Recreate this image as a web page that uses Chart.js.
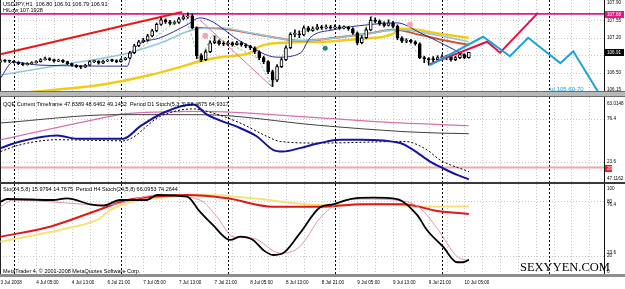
<!DOCTYPE html>
<html>
<head>
<meta charset="utf-8">
<title>USDJPY H1</title>
<script src="https://cdn.jsdelivr.net/npm/chart.js@4.4.1/dist/chart.umd.min.js"></script>
<style>
  html, body { margin: 0; padding: 0; background: #fff; }
  #wrap { position: relative; width: 625px; height: 289px; overflow: hidden; background: #fff;
          font-family: "Liberation Sans", Arial, sans-serif; }
  #wrap canvas { position: absolute; left: 0; }
  .sep { position: absolute; left: 0; width: 625px; box-sizing: border-box; }
  .txt { position: absolute; white-space: nowrap; font-size: 5.5px; line-height: 5.5px; color: #000; }
</style>
</head>
<body>
<div id="wrap">
  <canvas id="pricePane" width="625" height="91" style="top:0"></canvas>
  <canvas id="qqePane" width="625" height="85" style="top:97px"></canvas>
  <canvas id="stoPane" width="625" height="105" style="top:184px"></canvas>

  <div class="sep" style="top:91px;height:6px;background:#b8b8b8;border-top:1px solid #6c6c6c;border-bottom:1px solid #6c6c6c"></div>
  <div class="sep" style="top:182px;height:2px;background:#3a3a3a"></div>
  <div class="sep" style="top:274px;height:3px;background:#8e8e8e"></div>

  <div class="txt" style="left:3px;top:2px">USDJPY,H1&nbsp; 106.80 106.91 106.79 106.91</div>
  <div class="txt" style="left:3px;top:7.5px">HiLow 107.1928</div>
  <div class="txt" style="left:3px;top:101.5px">QQE Current Timeframe 47.8389 48.6462 49.1452&nbsp; Period D1 Stoch(5,3,3) 58.4875 64.9317</div>
  <div class="txt" style="left:3px;top:187px">Sto(24,5,8) 15.9794 14.7675&nbsp; Period H4 Stoch(24,5,8) 66.0953 74.2644</div>
  <div class="txt" style="left:3px;top:268.5px">MetaTrader 4, &copy; 2001-2008 MetaQuotes Software Corp.</div>
  <div class="txt" style="left:550px;top:86px;font-size:6px;line-height:6px;color:#1ea0dc">to 105.60-70</div>
  <div class="txt" style="left:520px;top:261px;font-family:'Liberation Serif',serif;font-size:12.5px;line-height:12.5px">SEXYYEN.COM</div>
</div>

<script>
/* ---- time axis (bar index = one H1 bar) ---- */
const X_MIN = -0.11;
const X_MAX = 135.3;
const xTickIdx  = [0, 8, 16, 24, 32, 40, 48, 56, 64, 72, 80, 88, 96, 104];
const xTickText = ['3 Jul 2008', '4 Jul 05:00', '4 Jul 13:00', '6 Jul 21:00', '7 Jul 05:00', '7 Jul 13:00',
                   '7 Jul 21:00', '8 Jul 05:00', '8 Jul 13:00', '8 Jul 21:00', '9 Jul 05:00', '9 Jul 13:00',
                   '9 Jul 21:00', '10 Jul 05:00'];
const dayBreaks = [3, 27, 51, 75, 99, 123];

/* ---- USDJPY H1 candles ---- */
const opens = [
  106.72, 106.74, 106.73, 106.73, 106.71, 106.68, 106.66, 106.68, 106.70, 106.72,
  106.76, 106.78, 106.76, 106.73, 106.75, 106.72, 106.68, 106.65, 106.62, 106.61,
  106.65, 106.72, 106.73, 106.69, 106.73, 106.75, 106.74, 106.72, 106.76, 106.79,
  106.90, 107.04, 107.12, 107.15, 107.24, 107.34, 107.47, 107.56, 107.52, 107.49,
  107.51, 107.58, 107.62, 107.64, 107.40, 106.84, 106.76, 106.92, 107.10, 107.14,
  107.08, 107.07, 107.10, 107.06, 107.10, 107.06, 107.03, 107.00, 106.92, 106.80,
  106.72, 106.52, 106.35, 106.62, 106.76, 107.00, 107.27, 107.28, 107.26, 107.40,
  107.35, 107.38, 107.42, 107.40, 107.42, 107.40, 107.42, 107.40, 107.41, 107.38,
  107.30, 107.10, 107.20, 107.36, 107.55, 107.53, 107.48, 107.45, 107.50, 107.43,
  107.20, 107.13, 107.15, 107.12, 107.08, 106.80, 106.78, 106.76, 106.76, 106.80,
  106.82, 106.82, 106.76, 106.80, 106.86, 106.80
];
const highs = [
  106.76, 106.76, 106.75, 106.74, 106.72, 106.70, 106.70, 106.72, 106.74, 106.78,
  106.81, 106.80, 106.77, 106.77, 106.76, 106.73, 106.69, 106.66, 106.64, 106.67,
  106.74, 106.75, 106.74, 106.75, 106.77, 106.77, 106.76, 106.78, 106.81, 106.93,
  107.07, 107.15, 107.19, 107.27, 107.37, 107.50, 107.60, 107.58, 107.55, 107.54,
  107.61, 107.66, 107.70, 107.68, 107.42, 106.88, 106.96, 107.14, 107.24, 107.16,
  107.12, 107.13, 107.12, 107.13, 107.12, 107.08, 107.05, 107.02, 106.94, 106.83,
  106.74, 106.55, 106.66, 106.80, 107.04, 107.30, 107.36, 107.34, 107.44, 107.43,
  107.42, 107.47, 107.45, 107.46, 107.45, 107.46, 107.45, 107.44, 107.43, 107.40,
  107.32, 107.24, 107.40, 107.62, 107.60, 107.56, 107.52, 107.56, 107.53, 107.46,
  107.22, 107.18, 107.17, 107.14, 107.10, 106.83, 106.80, 106.82, 106.84, 106.86,
  106.85, 106.84, 106.83, 106.90, 106.88, 106.91
];
const lows = [
  106.70, 106.71, 106.70, 106.69, 106.66, 106.64, 106.65, 106.67, 106.69, 106.71,
  106.75, 106.74, 106.71, 106.72, 106.70, 106.66, 106.63, 106.60, 106.58, 106.60,
  106.64, 106.70, 106.67, 106.68, 106.72, 106.72, 106.70, 106.71, 106.75, 106.78,
  106.88, 107.02, 107.10, 107.13, 107.22, 107.32, 107.45, 107.49, 107.46, 107.47,
  107.49, 107.56, 107.59, 107.38, 106.78, 106.72, 106.74, 106.90, 107.08, 107.05,
  107.04, 107.05, 107.03, 107.05, 107.03, 107.00, 106.96, 106.88, 106.76, 106.68,
  106.48, 106.22, 106.32, 106.60, 106.74, 106.98, 107.22, 107.20, 107.24, 107.32,
  107.33, 107.36, 107.37, 107.38, 107.37, 107.38, 107.37, 107.38, 107.35, 107.27,
  107.06, 107.08, 107.18, 107.34, 107.50, 107.45, 107.42, 107.44, 107.40, 107.16,
  107.10, 107.10, 107.09, 107.05, 106.78, 106.70, 106.65, 106.72, 106.74, 106.78,
  106.76, 106.73, 106.74, 106.78, 106.78, 106.79
];
const closes = [
  106.74, 106.73, 106.73, 106.71, 106.68, 106.66, 106.68, 106.70, 106.72, 106.76,
  106.78, 106.76, 106.73, 106.75, 106.72, 106.68, 106.65, 106.62, 106.61, 106.65,
  106.72, 106.73, 106.69, 106.73, 106.75, 106.74, 106.72, 106.76, 106.79, 106.90,
  107.04, 107.12, 107.15, 107.24, 107.34, 107.47, 107.56, 107.52, 107.49, 107.51,
  107.58, 107.62, 107.64, 107.40, 106.84, 106.76, 106.92, 107.10, 107.14, 107.08,
  107.07, 107.10, 107.06, 107.10, 107.06, 107.03, 107.00, 106.92, 106.80, 106.72,
  106.52, 106.35, 106.62, 106.76, 107.00, 107.27, 107.28, 107.26, 107.40, 107.35,
  107.38, 107.42, 107.40, 107.42, 107.40, 107.42, 107.40, 107.41, 107.38, 107.30,
  107.10, 107.20, 107.36, 107.55, 107.53, 107.48, 107.45, 107.50, 107.43, 107.20,
  107.13, 107.15, 107.12, 107.08, 106.80, 106.78, 106.76, 106.76, 106.80, 106.82,
  106.82, 106.76, 106.80, 106.86, 106.80, 106.91
];

/* ---- price pane overlays: [bar index, price] ---- */
const hiLine     = 107.68;
const trendLine  = [[0, 106.87], [40.7, 107.72]];
const slowMA     = [[6.6, 106.11], [22.3, 106.25], [28.4, 106.35], [33.5, 106.45], [40.2, 106.61], [44.7, 106.73],
                    [49.2, 106.81], [56.4, 106.91], [57.7, 107.01], [63.3, 107.10], [72.8, 107.12], [80.6, 107.18],
                    [88, 107.28], [89.1, 107.38], [93.4, 107.36], [97, 107.30], [105, 107.20]];
const midMA      = [[43.5, 107.40], [50, 107.38], [58, 107.26], [67.2, 107.14], [75, 107.20], [82, 107.28],
                    [88.5, 107.36], [94, 107.26], [100, 107.14], [105, 107.06]];
const lightMA    = [[0, 106.45], [13.3, 106.65], [28.4, 106.89], [36, 107.10], [43.2, 107.36], [49.2, 107.40],
                    [56, 107.30], [67.2, 107.14], [80.6, 107.26], [89.6, 107.36], [96, 107.28], [105, 107.12]];
const fastMA     = [[0, 106.39], [2.8, 106.71], [8.9, 106.65], [28.4, 106.63], [29.7, 106.95], [35.8, 107.20],
                    [41.8, 107.46], [44.7, 107.60], [54.4, 107.10], [62, 106.81], [67.2, 106.89], [69.4, 107.20],
                    [74.6, 107.36], [82.2, 107.46], [88.9, 107.50], [94.1, 107.30], [105, 106.81]];
const dropLine   = [[44.7, 107.56], [60.9, 106.21]];
const zigzag     = [[28.4, 106.79], [41.4, 107.66], [44.7, 106.71], [47.4, 107.26], [57.7, 106.79], [60.9, 106.21],
                    [64.9, 107.30], [78.8, 107.44], [80, 107.08], [83.3, 107.64], [89.6, 107.26], [96.3, 106.65]];
const pinkMarks  = [[45.9, 107.24], [91.8, 107.46]];
const tealMarks  = [[72.8, 106.99]];
const projBlue   = [[96.3, 106.65], [108.2, 107.22], [114.2, 106.83], [118.3, 107.20], [125.5, 106.69],
                    [128.4, 106.93], [134, 106.11]];
const projRed    = [[96.3, 106.67], [109.1, 107.12], [112, 106.90], [120.5, 107.70]];
const priceTicks = [107.90, 107.55, 107.20, 106.85, 106.50, 106.15];

/* ---- QQE / D1 stoch pane ---- */
const qqeMain   = [[0, 40.6], [4.4, 48.8], [12.7, 56.2], [17.2, 52.1], [27.5, 52.1], [31.3, 67.3], [36.4, 83.8],
                   [43.2, 94.1], [46.3, 81.7], [53.7, 65.3], [57.5, 54.9], [61.1, 38.5], [63.3, 36.4], [67.1, 40.6],
                   [71.6, 46.8], [76.1, 50.9], [80.6, 50.9], [89.6, 46.8], [92.5, 38.5], [96.3, 24.1], [99.2, 15.9],
                   [102.4, 7.7], [105, 2.3]];
const qqeSignal = [[0, 36.4], [4.4, 44.7], [12.7, 50.9], [27.5, 49.6], [35.8, 79.6], [43.2, 88.8], [47.6, 83.8],
                   [53.7, 71.5], [59.8, 54.9], [62.7, 48.8], [71.6, 46.8], [90.7, 48.8], [95.6, 38.5], [98.5, 26.2],
                   [105, 11.7]];
const d1Main    = [[0, 50.9], [24.6, 79.6], [27.5, 82.6], [44.7, 85.8], [71.6, 77.7], [89.6, 71.5], [105, 68.1]];
const d1Signal  = [[0, 71.5], [26.1, 81.7], [44.7, 81.7], [71.6, 68.5], [89.6, 61.1], [98.5, 59.1], [105, 58.3]];
const qqeLevel  = 16.7;
const qqeTickVals = [95.3, 76.4, 23.6, 2.7];
const qqeTickText = ['63.0148', '76.4', '23.6', '47.1162'];

/* ---- Sto H1 / H4 pane ---- */
const stoMain   = [[0, 79.7], [1.5, 82.6], [11.8, 81.5], [14.9, 83.4], [20.1, 76.8], [23, 75.3], [26.8, 81.5],
                   [32.8, 81.5], [35.1, 87], [41.8, 85.2], [44.7, 68.7], [47.6, 54.1], [51.5, 37.6], [53.7, 41.2],
                   [56.6, 37.6], [58.9, 26.6], [61.1, 21.1], [63.3, 23], [67.1, 44.9], [71.6, 73.3], [74.6, 76.8],
                   [78.4, 82.6], [83.5, 84.1], [88.9, 82.6], [93.4, 65.1], [95.6, 48.6], [99.2, 30.2],
                   [102.4, 13.1], [103.7, 13.1], [105, 16]];
const stoSignal = [[0, 74.2], [2.8, 81.5], [23.9, 76], [35.1, 87], [44.7, 81.5], [48.5, 63.2], [52.1, 41.2],
                   [56.6, 39.5], [62.7, 23], [67.1, 30.2], [71.6, 61.4], [76.1, 79], [81.3, 82.6], [90.3, 80.4],
                   [94.1, 72.4], [97.9, 50.4], [102.4, 19.2], [105, 14.8]];
const h4Main    = [[0, 41.2], [11.1, 52.2], [23, 72.4], [28.4, 81.5], [34.2, 85.2], [41.8, 87], [50.8, 83.4],
                   [61.1, 74.2], [71.6, 74.2], [81.3, 76.8], [90.3, 76.8], [97.9, 69.5], [105, 66.1]];
const h4Signal  = [[0, 35.7], [14.9, 50.4], [22.3, 61.4], [24.6, 70.5], [29.7, 79.7], [38.7, 85.2], [46.3, 87],
                   [56.6, 83.4], [71.6, 76], [86.7, 76.8], [94.1, 74.2], [105, 74.3]];
const stoTickVals = [94, 80, 76.4, 23.6, 20, 2.4];
const stoTickText = ['100', '80', '76.4', '23.6', '20', '0'];

/* ------------------------------------------------------------------ */

const AXIS_W = 21;
const FONT = '"Liberation Sans", Arial, sans-serif';
Chart.defaults.font.family = FONT;

// MT4-style dotted grid, day separators, level lines and axis price boxes
const mtPlugin = {
  id: 'mt',
  beforeDatasetsDraw(chart, args, opts) {
    const { ctx, chartArea: a, scales: { x, y } } = chart;
    ctx.save();
    ctx.beginPath();
    ctx.rect(a.left, a.top, a.right - a.left, a.bottom - a.top);
    ctx.clip();
    ctx.lineWidth = 1;

    ctx.strokeStyle = '#c6c6c6';
    ctx.setLineDash([1, 2]);
    for (let i = 0; i <= X_MAX; i += 4) {
      const px = Math.round(x.getPixelForValue(i)) + 0.5;
      ctx.beginPath(); ctx.moveTo(px, a.top); ctx.lineTo(px, a.bottom); ctx.stroke();
    }
    for (const v of opts.grid || []) {
      const py = Math.round(y.getPixelForValue(v)) + 0.5;
      ctx.beginPath(); ctx.moveTo(a.left, py); ctx.lineTo(a.right, py); ctx.stroke();
    }

    ctx.strokeStyle = '#000';
    ctx.setLineDash([2, 2]);
    for (const d of dayBreaks) {
      const px = Math.round(x.getPixelForValue(d)) + 0.5;
      ctx.beginPath(); ctx.moveTo(px, a.top); ctx.lineTo(px, a.bottom); ctx.stroke();
    }

    ctx.setLineDash([]);
    for (const l of opts.lines || []) {
      const py = y.getPixelForValue(l.value);
      ctx.strokeStyle = l.color;
      ctx.lineWidth = l.width;
      ctx.beginPath(); ctx.moveTo(a.left, py); ctx.lineTo(a.right, py); ctx.stroke();
    }

    ctx.strokeStyle = '#222';
    ctx.lineWidth = 1;
    ctx.beginPath(); ctx.moveTo(a.left + 0.5, a.top); ctx.lineTo(a.left + 0.5, a.bottom); ctx.stroke();
    ctx.restore();
  },
  afterDraw(chart, args, opts) {
    const { ctx, chartArea: a, scales: { y } } = chart;
    ctx.save();
    ctx.font = '4.6px ' + FONT;
    ctx.textBaseline = 'middle';
    for (const b of opts.boxes || []) {
      const py = Math.round(y.getPixelForValue(b.value));
      ctx.fillStyle = b.bg;
      ctx.fillRect(a.right + 1, py - 3, b.w || 19, 7);
      ctx.fillStyle = '#fff';
      ctx.fillText(b.text, a.right + 3, py + 0.5);
    }
    ctx.restore();
  }
};

function pts(pairs) {
  return pairs.map(([x, y]) => ({ x, y }));
}

function line(pairs, color, width, order, extra) {
  return Object.assign({
    type: 'line', data: pts(pairs), borderColor: color, borderWidth: width,
    pointRadius: 0, fill: false, order, cubicInterpolationMode: 'monotone'
  }, extra || {});
}

function straight(pairs, color, width, order, extra) {
  return line(pairs, color, width, order, Object.assign({ cubicInterpolationMode: 'default', tension: 0 }, extra || {}));
}

function dots(pairs, color, r, order) {
  return { type: 'scatter', data: pts(pairs), pointRadius: r, pointBackgroundColor: color,
           pointBorderWidth: 0, showLine: false, order };
}

function candleSets() {
  const idx = closes.map((_, i) => i);
  const wicks = {
    type: 'bar', order: 3, grouped: false, barThickness: 1, backgroundColor: '#000',
    data: idx.map(i => ({ x: i, y: [lows[i], highs[i]] }))
  };
  const bodies = {
    type: 'bar', order: 2, grouped: false, barThickness: 3, minBarLength: 1,
    borderSkipped: false, borderWidth: 1, borderColor: '#000',
    backgroundColor: idx.map(i => (closes[i] > opens[i] ? '#fff' : '#000')),
    data: idx.map(i => ({ x: i, y: [opens[i], closes[i]] }))
  };
  return [bodies, wicks];
}

// no auto padding for edge labels: the plot must fill each pane
function noPad(s) {
  s.paddingTop = 0; s.paddingBottom = 0; s.paddingLeft = 0; s.paddingRight = 0;
}

function xScale(show) {
  return {
    type: 'linear', min: X_MIN, max: X_MAX, offset: false, bounds: 'data', display: show,
    afterFit: s => { if (show) s.height = 15; noPad(s); },
    afterBuildTicks: s => { s.ticks = xTickIdx.map(v => ({ value: v })); },
    ticks: {
      callback: (v, i) => xTickText[i], align: 'start', maxRotation: 0, autoSkip: false,
      padding: 6, color: '#000', font: { size: 4.6 }
    },
    grid: { display: false, drawTicks: false },
    border: { display: false }
  };
}

function yScale(min, max, vals, text) {
  return {
    position: 'right', min, max, bounds: 'data',
    afterFit: s => { s.width = AXIS_W; noPad(s); },
    afterBuildTicks: s => { s.ticks = vals.map(v => ({ value: v })); },
    ticks: {
      callback: (v, i) => text[i], padding: 3, autoSkip: false, crossAlign: 'near',
      color: '#000', font: { size: 4.6 }
    },
    grid: { display: false, drawTicks: false },
    border: { display: true, color: '#111', width: 1 }
  };
}

function pane(id, datasets, y, showX, mt) {
  return new Chart(document.getElementById(id), {
    type: 'line',
    data: { datasets },
    options: {
      responsive: false, animation: false, devicePixelRatio: 1, events: [],
      layout: { padding: 0, autoPadding: false },
      plugins: { legend: { display: false }, tooltip: { enabled: false }, mt },
      scales: { x: xScale(showX), y }
    },
    plugins: [mtPlugin]
  });
}

/* ---- price pane ---- */
pane('pricePane', [
  straight(projBlue, '#1ea0dc', 2, 0),
  straight(projRed, '#dc1446', 2, 0),
  dots(pinkMarks, '#f4a6b8', 3, 1),
  dots(tealMarks, '#1f8a80', 2.5, 1),
  ...candleSets(),
  straight(trendLine, '#e81818', 2, 4),
  straight(zigzag, '#7cbf7c', 1, 5, { borderDash: [2, 2] }),
  straight(dropLine, '#e070a8', 1, 5),
  line(fastMA, '#2a2aa0', 1, 6),
  line(lightMA, '#92c8de', 1.5, 7),
  line(midMA, '#d2542c', 2, 8),
  line(slowMA, '#f0cc18', 2.5, 9)
], yScale(106.13, 107.96, priceTicks, priceTicks.map(v => v.toFixed(2))), false,
  {
    grid: [107.55, 107.20, 106.85, 106.50],
    lines: [{ value: hiLine, color: '#e8168c', width: 1.8 }],
    boxes: [{ value: hiLine, text: hiLine.toFixed(2), bg: '#e8168c' },
            { value: closes[closes.length - 1], text: closes[closes.length - 1].toFixed(2), bg: '#000' }]
  });

/* ---- QQE pane ---- */
pane('qqePane', [
  line(qqeMain, '#1414a0', 2, 0),
  line(qqeSignal, '#000', 1, 1, { borderDash: [2, 2] }),
  line(d1Signal, '#404040', 1, 2),
  line(d1Main, '#d870b0', 1.2, 2)
], yScale(-1, 103.4, qqeTickVals, qqeTickText), false,
  {
    grid: [76.4, 23.6],
    lines: [{ value: qqeLevel, color: '#f0a8a8', width: 2 }],
    boxes: [{ value: qqeLevel, text: '20', bg: '#ee2222', w: 7 }]
  });

/* ---- Stochastic pane ---- */
pane('stoPane', [
  line(stoMain, '#000', 1.8, 0),
  line(stoSignal, '#e890b0', 1, 1),
  line(h4Main, '#e01818', 2, 2),
  line(h4Signal, '#f4e27a', 2, 3)
], yScale(0.2, 99.1, stoTickVals, stoTickText), true,
  { grid: [80, 20] });
</script>
</body>
</html>
